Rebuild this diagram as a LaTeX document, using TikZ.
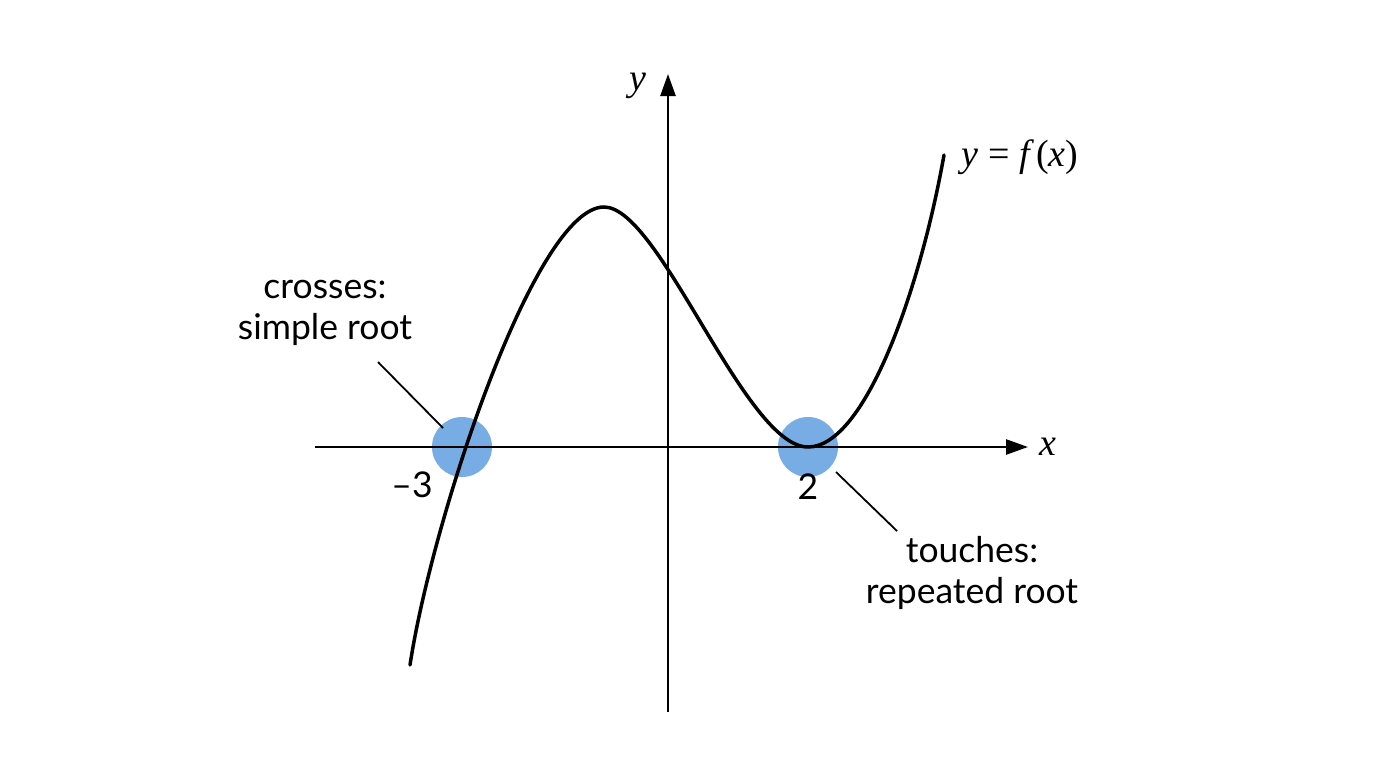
\documentclass[tikz,border=0pt]{standalone}
\usepackage{fontspec}
\setsansfont{Lato}
\newfontfamily\tnr{Liberation Serif}
\usetikzlibrary{arrows.meta}
\begin{document}
\begin{tikzpicture}[x=1pt,y=-1pt,
  lab/.style={font=\sffamily\fontsize{35.5}{41}\selectfont,align=center},
  mth/.style={font=\tnr\fontsize{38}{40}\selectfont},
  ax/.style={line width=2.5pt,-{Triangle[length=22pt,width=15pt]}},
  lead/.style={line width=1.8pt}]
\useasboundingbox (0,0) rectangle (1376,768);
\fill[fill={rgb,255:red,120;green,172;blue,228}] (462,447) circle (30);
\fill[fill={rgb,255:red,120;green,172;blue,228}] (808,447) circle (30);
\coordinate (xs) at (315,447); \coordinate (xe) at (1028,447);
\coordinate (ys) at (668,712); \coordinate (ye) at (668,74);
\draw[ax] (xs) -- (xe);
\draw[ax] (ys) -- (ye);
\draw[line width=3.5pt,line cap=round] (410,665) .. controls (432,520) and (535,207) .. (604,207)
  .. controls (660,207) and (745,447) .. (808,447)
  .. controls (865,447) and (920,290) .. (944,155);
\node[mth] (xl) at (1048,447) {\itshape x};
\node[mth] (yl) at (638,86) {\itshape y};
\node[mth] (fl) at (1020,157) {{\itshape y} = {\itshape f}\,({\itshape x})};
\node[lab] (m3) at (412,485) {\textendash3};
\node[lab] (t2) at (808,487) {2};
\node[lab] (cr) at (325,313) {crosses:\\simple root};
\node[lab] (to) at (972,573) {touches:\\repeated root};
\coordinate (c1) at (443,428); \coordinate (c2) at (836,472);
\draw[lead] (378,362) -- (c1);
\draw[lead] (c2) -- (897,531);
\end{tikzpicture}
\end{document}
